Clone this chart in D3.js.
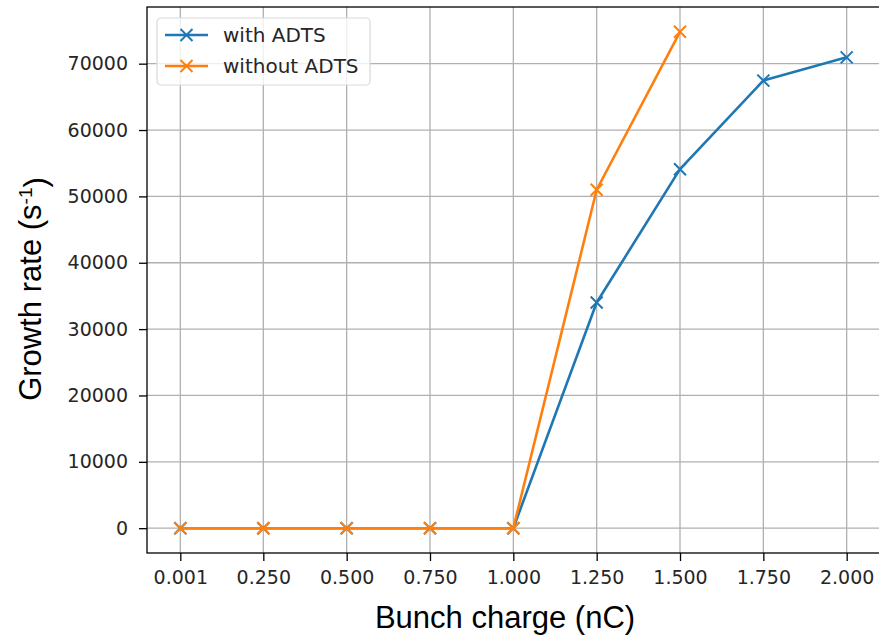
<!DOCTYPE html>
<html>
<head>
<meta charset="utf-8">
<script src="https://cdn.jsdelivr.net/npm/d3@7"></script>
<style>
  html, body { margin: 0; padding: 0; background: #ffffff; overflow: hidden; }
  svg { display: block; }
</style>
</head>
<body>
<svg id="chart" width="879" height="635"></svg>
<script>
// Bunch charge values (nC) and the growth rates for each case
const charges = [0.001, 0.25, 0.5, 0.75, 1.0, 1.25, 1.5, 1.75, 2.0];
const withADTS = [0, 0, 0, 0, 0, 34000, 54100, 67450, 70950];
const chargesNoADTS = [0.001, 0.25, 0.5, 0.75, 1.0, 1.25, 1.5];
const withoutADTS = [0, 0, 0, 0, 0, 51000, 74800];
const yTicks = [0, 10000, 20000, 30000, 40000, 50000, 60000, 70000];
const seriesNames = ["with ADTS", "without ADTS"];
const seriesColors = ["#1f77b4", "#ff7f0e"];

const svg = d3.select("#chart");
const plot = { left: 147, right: 880, top: 7, bottom: 553 };

// Axis limits padded by 5% of the data range on each side
const xMin = d3.min(charges), xMax = d3.max(charges);
const xPad = (xMax - xMin) * 0.05;
const yAll = withADTS.concat(withoutADTS);
const yLo = d3.min(yAll), yHi = d3.max(yAll);
const yPad = (yHi - yLo) * 0.05;

const x = d3.scaleLinear().domain([xMin - xPad, xMax + xPad]).range([plot.left, plot.right]);
const y = d3.scaleLinear().domain([yLo - yPad, yHi + yPad]).range([plot.bottom, plot.top]);

const tickFont = "'DejaVu Sans', sans-serif";
const labelFont = "'Liberation Sans', Arial, sans-serif";

// Grid lines
const grid = svg.append("g");
grid.selectAll("line.vx").data(charges).enter().append("line")
  .attr("x1", d => x(d)).attr("x2", d => x(d))
  .attr("y1", plot.top).attr("y2", plot.bottom)
  .attr("stroke", "#b0b0b0").attr("stroke-width", 1.3);
grid.selectAll("line.hy").data(yTicks).enter().append("line")
  .attr("y1", d => y(d)).attr("y2", d => y(d))
  .attr("x1", plot.left).attr("x2", plot.right)
  .attr("stroke", "#b0b0b0").attr("stroke-width", 1.3);

// Axes
const xAxis = d3.axisBottom(x).tickValues(charges).tickFormat(d3.format(".3f"))
  .tickSizeInner(8).tickSizeOuter(0).tickPadding(10);
const yAxis = d3.axisLeft(y).tickValues(yTicks).tickFormat(d3.format("d"))
  .tickSizeInner(8).tickSizeOuter(0).tickPadding(11);

const gx = svg.append("g").attr("transform", `translate(0,${plot.bottom})`).call(xAxis);
const gy = svg.append("g").attr("transform", `translate(${plot.left},0)`).call(yAxis);
[gx, gy].forEach(g => {
  g.select(".domain").remove();
  g.selectAll(".tick line").attr("stroke", "#000").attr("stroke-width", 1.3);
  g.selectAll(".tick text").attr("fill", "#262626")
    .style("font-family", tickFont).style("font-size", "19px");
});

// Frame
svg.append("rect")
  .attr("x", plot.left).attr("y", plot.top)
  .attr("width", plot.right - plot.left).attr("height", plot.bottom - plot.top)
  .attr("fill", "none").attr("stroke", "#000").attr("stroke-width", 1.3);

// Series lines and x-shaped markers
const series = [
  { xs: charges, ys: withADTS, color: seriesColors[0] },
  { xs: chargesNoADTS, ys: withoutADTS, color: seriesColors[1] }
];
const line = d3.line().x(d => x(d[0])).y(d => y(d[1]));
const m = 6;
function drawX(g, cx, cy, color) {
  g.append("path")
    .attr("d", `M${cx - m},${cy - m}L${cx + m},${cy + m}M${cx - m},${cy + m}L${cx + m},${cy - m}`)
    .attr("stroke", color).attr("stroke-width", 2).attr("fill", "none");
}
series.forEach(s => {
  const pts = s.xs.map((v, i) => [v, s.ys[i]]);
  const g = svg.append("g");
  g.append("path").datum(pts).attr("d", line)
    .attr("fill", "none").attr("stroke", s.color).attr("stroke-width", 2.6)
    .attr("stroke-linejoin", "round");
  pts.forEach(p => drawX(g, x(p[0]), y(p[1]), s.color));
});

// Legend
const leg = svg.append("g").attr("transform", "translate(157,18)");
leg.append("rect").attr("width", 213).attr("height", 67).attr("rx", 4)
  .attr("fill", "rgba(255,255,255,0.8)").attr("stroke", "#d9d9d9").attr("stroke-width", 1.2);
seriesNames.forEach((name, i) => {
  const cy = 17 + i * 31;
  leg.append("line").attr("x1", 8).attr("x2", 51).attr("y1", cy).attr("y2", cy)
    .attr("stroke", seriesColors[i]).attr("stroke-width", 2.6);
  drawX(leg, 29.5, cy, seriesColors[i]);
  leg.append("text").attr("x", 66).attr("y", cy).attr("dy", "0.35em")
    .attr("fill", "#262626").style("font-family", tickFont).style("font-size", "20px")
    .text(name);
});

// Axis titles
svg.append("text").attr("x", 505).attr("y", 628)
  .attr("text-anchor", "middle").style("font-family", labelFont).style("font-size", "31px")
  .attr("fill", "#000").text("Bunch charge (nC)");

const yl = svg.append("text")
  .attr("transform", `translate(41,289) rotate(-90)`)
  .attr("text-anchor", "middle").style("font-family", labelFont).style("font-size", "31px")
  .attr("fill", "#000");
yl.append("tspan").text("Growth rate (s");
yl.append("tspan").attr("dy", "-0.45em").style("font-size", "19px").text("-1");
yl.append("tspan").attr("dy", "0.45em").text(")");
</script>
</body>
</html>
